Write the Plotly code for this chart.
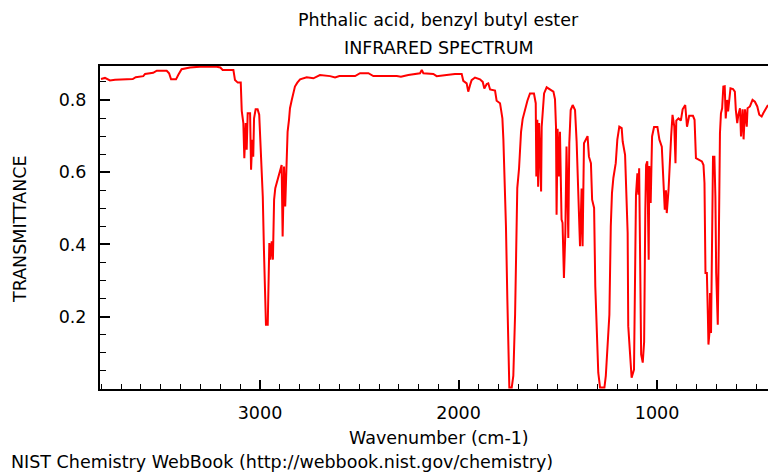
import plotly.graph_objects as go

# Wavenumber (cm-1) and transmittance
wavenumber = [
    3801, 3781, 3756, 3730, 3641, 3626, 3588, 3579, 3538, 3520, 3470, 3458, 3448, 3423, 3412,
    3395, 3353, 3302, 3218, 3200, 3188, 3134, 3126, 3112, 3097, 3092, 3084, 3079, 3072, 3067,
    3062, 3050, 3045, 3039, 3034, 3030, 3022, 3012, 3004, 2995, 2986, 2980, 2975, 2970, 2961,
    2958, 2953, 2948, 2941, 2935, 2929, 2923, 2913, 2903, 2891, 2886, 2879, 2873, 2866, 2861,
    2854, 2849, 2840, 2832, 2824, 2812, 2798, 2765, 2731, 2698, 2647, 2622, 2600, 2521, 2496,
    2454, 2429, 2311, 2290, 2253, 2194, 2185, 2177, 2127, 2110, 2060, 2018, 1984, 1976, 1959,
    1951, 1942, 1934, 1917, 1892, 1878, 1870, 1858, 1850, 1841, 1816, 1808, 1791, 1786, 1779,
    1774, 1769, 1761, 1754, 1749, 1744, 1732, 1724, 1715, 1710, 1704, 1695, 1690, 1685, 1677,
    1665, 1653, 1640, 1620, 1611, 1608, 1603, 1599, 1594, 1589, 1584, 1581, 1569, 1556, 1539,
    1522, 1514, 1509, 1506, 1501, 1494, 1489, 1481, 1476, 1469, 1462, 1456, 1447, 1442, 1435,
    1425, 1413, 1405, 1397, 1388, 1380, 1375, 1368, 1358, 1350, 1343, 1333, 1327, 1317, 1311,
    1304, 1296, 1287, 1265, 1258, 1248, 1240, 1233, 1227, 1220, 1208, 1200, 1190, 1178, 1173,
    1161, 1156, 1148, 1145, 1136, 1128, 1116, 1111, 1106, 1099, 1094, 1090, 1085, 1080, 1072,
    1065, 1059, 1055, 1049, 1045, 1042, 1039, 1032, 1025, 1015, 998, 988, 976, 968, 961,
    955, 951, 942, 937, 929, 922, 913, 907, 903, 892, 880, 871, 858, 849, 838,
    819, 811, 804, 791, 774, 766, 761, 756, 749, 744, 741, 736, 733, 728, 723,
    718, 711, 706, 702, 694, 689, 683, 678, 672, 666, 659, 654, 647, 642, 637,
    630, 617, 608, 603, 596, 590, 582, 577, 569, 564, 557, 548, 544, 532, 519,
    507, 495, 485, 473, 465, 451, 441,
]
transmittance = [
    0.858, 0.861, 0.854, 0.856, 0.858, 0.863, 0.866, 0.872, 0.875, 0.881, 0.881, 0.874, 0.857, 0.857, 0.869,
    0.885, 0.890, 0.892, 0.892, 0.890, 0.883, 0.883, 0.855, 0.848, 0.848, 0.770, 0.736, 0.639, 0.736, 0.662,
    0.763, 0.763, 0.607, 0.690, 0.643, 0.749, 0.774, 0.774, 0.759, 0.662, 0.533, 0.381, 0.229, 0.178, 0.178,
    0.284, 0.404, 0.358, 0.409, 0.358, 0.524, 0.556, 0.574, 0.597, 0.620, 0.422, 0.616, 0.505, 0.620, 0.712,
    0.745, 0.777, 0.800, 0.820, 0.837, 0.848, 0.857, 0.863, 0.860, 0.869, 0.866, 0.862, 0.866, 0.866, 0.874,
    0.874, 0.866, 0.866, 0.864, 0.869, 0.874, 0.883, 0.874, 0.872, 0.866, 0.869, 0.872, 0.872, 0.853, 0.846,
    0.823, 0.841, 0.855, 0.862, 0.857, 0.850, 0.832, 0.844, 0.846, 0.829, 0.826, 0.798, 0.791, 0.774, 0.749,
    0.691, 0.607, 0.450, 0.248, 0.059, 0.004, 0.004, 0.036, 0.206, 0.427, 0.556, 0.611, 0.653, 0.712, 0.747,
    0.774, 0.798, 0.818, 0.818, 0.791, 0.588, 0.745, 0.560, 0.736, 0.607, 0.547, 0.726, 0.818, 0.835, 0.830,
    0.823, 0.802, 0.726, 0.482, 0.720, 0.588, 0.712, 0.469, 0.460, 0.307, 0.432, 0.671, 0.418, 0.680, 0.772,
    0.786, 0.772, 0.685, 0.560, 0.395, 0.555, 0.395, 0.680, 0.690, 0.700, 0.643, 0.625, 0.524, 0.501, 0.284,
    0.146, 0.045, 0.004, 0.004, 0.036, 0.137, 0.206, 0.450, 0.542, 0.584, 0.625, 0.690, 0.726, 0.722, 0.685,
    0.648, 0.565, 0.432, 0.174, 0.086, 0.031, 0.054, 0.321, 0.538, 0.597, 0.538, 0.611, 0.340, 0.096, 0.073,
    0.130, 0.496, 0.620, 0.630, 0.478, 0.358, 0.617, 0.515, 0.699, 0.725, 0.725, 0.690, 0.671, 0.565, 0.496,
    0.550, 0.487, 0.551, 0.620, 0.699, 0.759, 0.726, 0.625, 0.743, 0.749, 0.743, 0.774, 0.786, 0.726, 0.756,
    0.756, 0.745, 0.639, 0.636, 0.630, 0.620, 0.570, 0.321, 0.321, 0.206, 0.123, 0.156, 0.266, 0.155, 0.515,
    0.643, 0.643, 0.533, 0.321, 0.178, 0.400, 0.708, 0.763, 0.777, 0.837, 0.838, 0.749, 0.800, 0.768, 0.800,
    0.832, 0.830, 0.823, 0.772, 0.736, 0.760, 0.777, 0.699, 0.774, 0.691, 0.774, 0.726, 0.777, 0.782, 0.800,
    0.795, 0.782, 0.759, 0.754, 0.763, 0.777, 0.786,
]

x_tick_values = [3000, 2000, 1000]
x_tick_labels = ["3000", "2000", "1000"]
y_tick_values = [0.2, 0.4, 0.6, 0.8]
y_tick_labels = ["0.2", "0.4", "0.6", "0.8"]

compound = "Phthalic acid, benzyl butyl ester"
subtitle = "INFRARED SPECTRUM"
x_title = "Wavenumber (cm-1)"
y_title = "TRANSMITTANCE"
credit = "NIST Chemistry WebBook (http://webbook.nist.gov/chemistry)"

FONT = "DejaVu Sans"
FS = 17.5
W, H = 768, 474
L, R, T, B = 100, 0, 66, 85
PW, PH = W - L - R, H - T - B


def px(xp):
    return (xp - L) / PW


def py(yp):
    return (H - B - yp) / PH


fig = go.Figure()
fig.add_trace(go.Scatter(
    x=wavenumber, y=transmittance, mode="lines",
    line=dict(color="#ff0000", width=2),
    hoverinfo="skip", showlegend=False,
))

fig.update_layout(
    width=W, height=H, autosize=False,
    margin=dict(l=L, r=R, t=T, b=B, pad=0),
    paper_bgcolor="white", plot_bgcolor="white",
    font=dict(family=FONT, size=FS, color="black"),
    showlegend=False,
)

fig.update_xaxes(
    range=[3806, 441], showgrid=False, zeroline=False,
    showline=True, linecolor="black", linewidth=2, mirror=True,
    tickmode="array", tickvals=x_tick_values, ticktext=x_tick_labels,
    ticks="inside", ticklen=9, tickwidth=2, tickcolor="black",
    ticklabelstandoff=7,
    minor=dict(dtick=100, tick0=0, ticks="inside", ticklen=5, tickwidth=1, tickcolor="black", showgrid=False),
    tickfont=dict(family=FONT, size=FS, color="black"),
)
fig.update_yaxes(
    range=[0.0, 0.894], showgrid=False, zeroline=False,
    showline=True, linecolor="black", linewidth=2, mirror=False,
    tickmode="array", tickvals=y_tick_values, ticktext=y_tick_labels,
    ticks="inside", ticklen=10, tickwidth=2, tickcolor="black",
    ticklabelstandoff=8,
    minor=dict(dtick=0.05, tick0=0, ticks="inside", ticklen=6, tickwidth=1, tickcolor="black", showgrid=False),
    tickfont=dict(family=FONT, size=FS, color="black"),
)

ann = dict(xref="paper", yref="paper", showarrow=False, font=dict(family=FONT, size=FS, color="black"))
fig.add_annotation(text=compound, x=px(438), y=py(20), xanchor="center", yanchor="middle", **ann)
fig.add_annotation(text=subtitle, x=px(439), y=py(48), xanchor="center", yanchor="middle", **ann)
fig.add_annotation(text=x_title, x=px(439), y=py(438), xanchor="center", yanchor="middle", **ann)
fig.add_annotation(text=y_title, x=px(20), y=py(229), xanchor="center", yanchor="middle", textangle=-90, **ann)
fig.add_annotation(text=credit, x=px(9), y=py(462), xanchor="left", yanchor="middle", **ann)

fig.write_html("out.html")
